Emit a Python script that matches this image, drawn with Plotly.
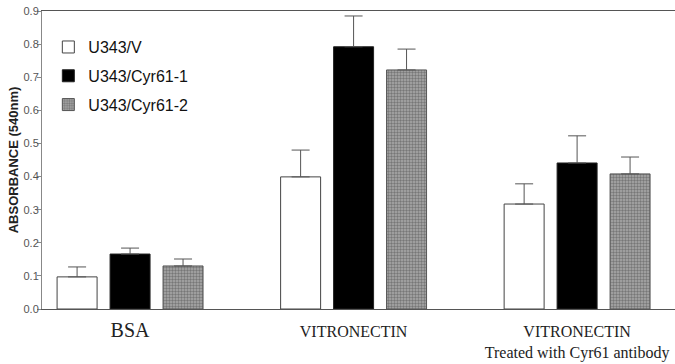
import plotly.graph_objects as go

categories = ["<span style='font-size:20px'>BSA</span>", "VITRONECTIN", "VITRONECTIN<br>Treated with Cyr61 antibody"]
series_names = ["U343/V", "U343/Cyr61-1", "U343/Cyr61-2"]
values = {
    "U343/V": [0.097, 0.399, 0.317],
    "U343/Cyr61-1": [0.166, 0.792, 0.441],
    "U343/Cyr61-2": [0.130, 0.722, 0.408],
}
err_tops = {
    "U343/V": [0.127, 0.480, 0.378],
    "U343/Cyr61-1": [0.184, 0.885, 0.523],
    "U343/Cyr61-2": [0.151, 0.785, 0.459],
}
y_ticks = [0.0, 0.1, 0.2, 0.3, 0.4, 0.5, 0.6, 0.7, 0.8, 0.9]

styles = {
    "U343/V": dict(color="white", line=dict(color="#444", width=1)),
    "U343/Cyr61-1": dict(color="black", line=dict(color="#222", width=1)),
    "U343/Cyr61-2": dict(color="#888", line=dict(color="#555", width=1),
                          pattern=dict(shape=".", fgcolor="#444", bgcolor="#aaa", size=3, solidity=0.5)),
}

xpos = list(range(len(categories)))
fig = go.Figure()
for name in series_names:
    errs = [t - v for t, v in zip(err_tops[name], values[name])]
    fig.add_trace(go.Bar(
        x=xpos, y=values[name], name=name, legendgroup=name,
        marker=styles[name],
        error_y=dict(type="data", array=errs, arrayminus=[0] * len(errs), symmetric=False,
                     color="#555", thickness=1, width=9),
    ))

fig.update_layout(
    width=675, height=364,
    margin=dict(l=42, r=0, t=11, b=55),
    paper_bgcolor="white", plot_bgcolor="white",
    barmode="group", bargap=0.289, bargroupgap=0.245,
    showlegend=True,
    legend=dict(x=0.01, y=0.936, xanchor="left", yanchor="top",
                font=dict(family="Liberation Sans, Arial", size=16, color="#111"),
                itemwidth=30, tracegroupgap=5, bgcolor="rgba(0,0,0,0)"),
    font=dict(family="Liberation Sans, Arial"),
)
fig.update_xaxes(
    range=[-0.394, 2.438], tickvals=xpos, ticktext=categories,
    showline=True, mirror=True, linecolor="#555", linewidth=1,
    ticks="", showgrid=False, zeroline=False, automargin=False,
    ticklabelstandoff=8,
    tickfont=dict(family="Liberation Serif, Times New Roman", size=16, color="#222"),
)
fig.update_yaxes(
    range=[0, 0.9], tickvals=y_ticks, tickformat=".1f",
    showline=True, linecolor="#888", linewidth=1,
    ticks="outside", ticklen=4, tickcolor="#888",
    showgrid=False, zeroline=False, automargin=False,
    ticklabelstandoff=-4,
    tickfont=dict(size=11, color="#555"),
    title=dict(text="<b>ABSORBANCE (540nm)</b>", font=dict(size=13, color="#222"), standoff=1),
)
fig.write_html("out.html", config={"displayModeBar": False},
               post_script="document.body.style.margin='0';")
